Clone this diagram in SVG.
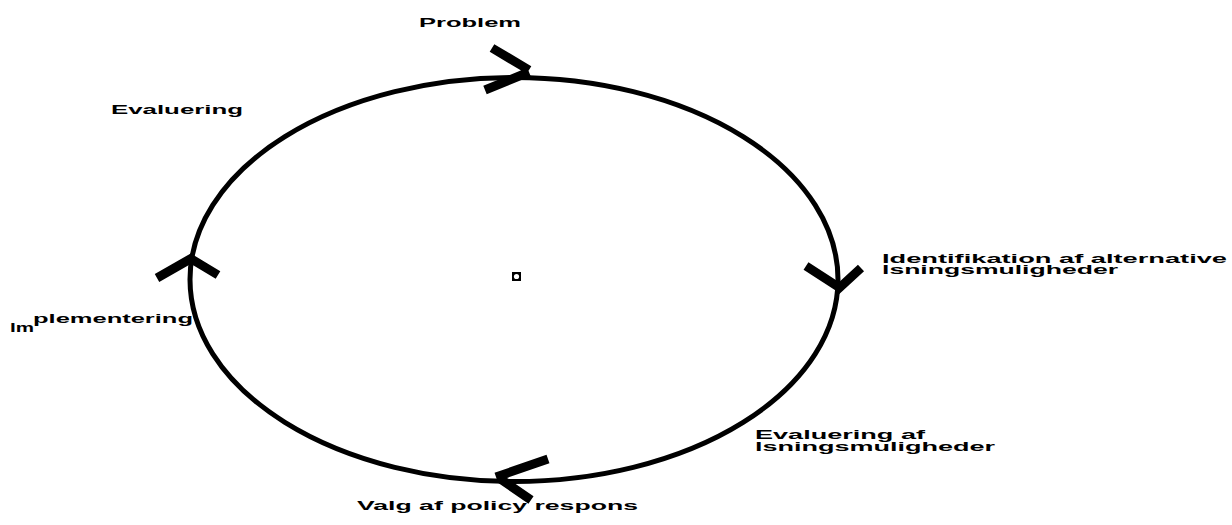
<svg xmlns="http://www.w3.org/2000/svg" width="1232" height="525" viewBox="0 0 1232 525">
<style>
text{font-family:"Liberation Sans",Arial,sans-serif;font-weight:bold;font-size:13px;fill:#000}
.c{fill:none;stroke:#000;stroke-width:5}
.a{stroke:#000;stroke-width:9;stroke-linecap:butt;fill:none}
</style>
<rect width="1232" height="525" fill="#fff"/>
<g id="connectors">
<ellipse class="c" cx="514" cy="279.5" rx="324" ry="202"/>
<path class="a" d="M492,48 L529,70 M485,90 L529,72"/>
<path class="a" d="M806,266 L840,288 M861,268 L836,291"/>
<path class="a" d="M157,278 L192,258 M218,275 L188,257"/>
<path class="a" d="M548,459 L496,477 M531,500 L499,478"/>
</g>
<g id="center">
<rect x="512" y="272" width="9" height="9" fill="#000"/>
<circle cx="516.5" cy="276.5" r="2.6" fill="#fff"/>
</g>
<g id="n-problem"><text x="419" y="27" textLength="102" lengthAdjust="spacingAndGlyphs">Problem</text></g>
<g id="n-evaluering"><text x="111" y="114" textLength="132" lengthAdjust="spacingAndGlyphs">Evaluering</text></g>
<g id="n-identifikation">
<text x="882" y="263" textLength="345" lengthAdjust="spacingAndGlyphs">Identifikation af alternative</text>
<text x="882" y="274" textLength="236" lengthAdjust="spacingAndGlyphs">lsningsmuligheder</text>
</g>
<g id="n-evaluering-af">
<text x="755" y="439" textLength="170" lengthAdjust="spacingAndGlyphs">Evaluering af</text>
<text x="755" y="451" textLength="240" lengthAdjust="spacingAndGlyphs">lsningsmuligheder</text>
</g>
<g id="n-valg"><text x="357" y="510" textLength="281" lengthAdjust="spacingAndGlyphs">Valg af policy respons</text></g>
<g id="n-implementering">
<text x="10" y="332" textLength="24" lengthAdjust="spacingAndGlyphs">Im</text>
<text x="33" y="323" textLength="160" lengthAdjust="spacingAndGlyphs">plementering</text>
</g>
</svg>
